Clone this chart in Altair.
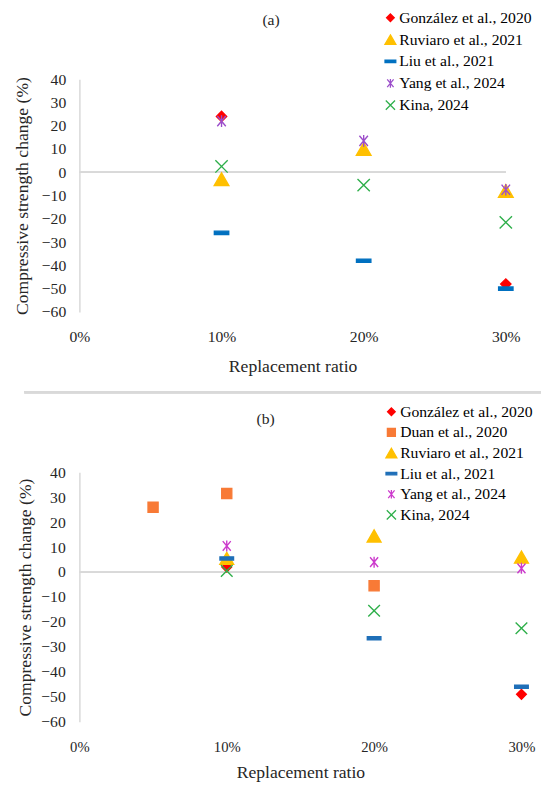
import altair as alt
import pandas as pd

# ---------------- data: panel (a) ----------------
a_studies = ["González et al., 2020", "Ruviaro et al., 2021", "Liu et al., 2021",
             "Yang et al., 2024", "Kina, 2024"]
a_gonzalez_ratio = [10, 30]
a_gonzalez_change = [24, -48]
a_ruviaro_ratio = [10, 20, 30]
a_ruviaro_change = [-3, 10, -8]
a_liu_ratio = [10, 20, 30]
a_liu_change = [-26, -38, -50]
a_yang_ratio = [10, 20, 30]
a_yang_change = [22, 13.5, -7.5]
a_kina_ratio = [10, 20, 30]
a_kina_change = [2.5, -5.5, -21.5]

# ---------------- data: panel (b) ----------------
b_studies = ["González et al., 2020", "Duan et al., 2020", "Ruviaro et al., 2021",
             "Liu et al., 2021", "Yang et al., 2024", "Kina, 2024"]
b_gonzalez_ratio = [10, 30]
b_gonzalez_change = [2, -49]
b_duan_ratio = [5, 10, 20]
b_duan_change = [26, 31.5, -5.5]
b_ruviaro_ratio = [10, 20, 30]
b_ruviaro_change = [5.5, 14.5, 6]
b_liu_ratio = [10, 20, 30]
b_liu_change = [5.5, -26.5, -46]
b_yang_ratio = [10, 20, 30]
b_yang_change = [10.5, 4, 1.5]
b_kina_ratio = [10, 20, 30]
b_kina_change = [0.5, -15.5, -22.5]

x_ticks = [0, 10, 20, 30]
y_ticks = [-60, -50, -40, -30, -20, -10, 0, 10, 20, 30, 40]

# ---------------- marker shapes / colours ----------------
DIAMOND = "M0,-0.75L0.75,0L0,0.75L-0.75,0Z"
TRIANGLE = "M0,-0.93L1.07,0.93L-1.07,0.93Z"
SQUARE = "M-0.78,-0.78L0.78,-0.78L0.78,0.78L-0.78,0.78Z"
BAR = "M-1.05,-0.24L1.05,-0.24L1.05,0.24L-1.05,0.24Z"
STAR = "M-0.62,-0.75L0.62,0.75M-0.62,0.75L0.62,-0.75M0,-0.85L0,0.85"
CROSS = "M-0.9,-0.9L0.9,0.9M-0.9,0.9L0.9,-0.9"

a_colors = ["#FF0000", "#FFC000", "#0070C0", "#9B4DCA", "#2EAF4A"]
a_shapes = [DIAMOND, TRIANGLE, BAR, STAR, CROSS]
b_colors = ["#FF0000", "#F87A36", "#FFC000", "#1F6FB8", "#CC3ACC", "#2EAF4A"]
b_shapes = [DIAMOND, SQUARE, TRIANGLE, BAR, STAR, CROSS]

FONT = "Liberation Serif"
TXT = "#262626"


def frame(series):
    rows = []
    for name, xs, ys in series:
        for x, y in zip(xs, ys):
            rows.append({"Study": name, "Ratio": x, "Change": y})
    return pd.DataFrame(rows)


df_a = frame([
    (a_studies[0], a_gonzalez_ratio, a_gonzalez_change),
    (a_studies[1], a_ruviaro_ratio, a_ruviaro_change),
    (a_studies[2], a_liu_ratio, a_liu_change),
    (a_studies[3], a_yang_ratio, a_yang_change),
    (a_studies[4], a_kina_ratio, a_kina_change),
])
df_b = frame([
    (b_studies[0], b_gonzalez_ratio, b_gonzalez_change),
    (b_studies[1], b_duan_ratio, b_duan_change),
    (b_studies[2], b_ruviaro_ratio, b_ruviaro_change),
    (b_studies[3], b_liu_ratio, b_liu_change),
    (b_studies[4], b_yang_ratio, b_yang_change),
    (b_studies[5], b_kina_ratio, b_kina_change),
])


def panel(df, studies, colors, shapes, label, label_x, label_y,
          width, height, size, x_lab_size, x_lab_pad, x_title_pad,
          y_lab_pad, y_title_pad, legend_x, legend_y, row_pad, divider=False):
    xs = alt.Scale(domain=[0, 30], nice=False, zero=False)
    ys = alt.Scale(domain=[-60, 40], nice=False, zero=False)
    legend = alt.Legend(
        title=None, orient="none", legendX=legend_x, legendY=legend_y,
        labelFont=FONT, labelFontSize=16, labelColor="#000000", labelLimit=300,
        symbolSize=110, symbolStrokeWidth=1.3, rowPadding=row_pad,
        labelOffset=1, padding=0,
    )
    x_axis = alt.Axis(
        values=x_ticks, labelExpr="datum.value + '%'", domain=False, ticks=False,
        grid=False, labelFlush=False, labelOverlap=False,
        labelFont=FONT, labelFontSize=x_lab_size, labelColor=TXT, labelPadding=x_lab_pad,
        title="Replacement ratio", titleFont=FONT, titleFontSize=18,
        titleFontWeight="normal", titleColor=TXT, titlePadding=x_title_pad,
    )
    y_axis = alt.Axis(
        values=y_ticks, domain=True, domainColor="#D9D9D9", domainWidth=1.5,
        ticks=False, grid=False, labelFont=FONT, labelFontSize=16, labelColor=TXT,
        labelPadding=y_lab_pad, labelOverlap=False, labelFlush=False,
        title="Compressive strength change (%)", titleFont=FONT, titleFontSize=18,
        titleFontWeight="normal", titleColor=TXT, titlePadding=y_title_pad,
    )
    base = alt.Chart(df)
    zero_line = base.mark_rule(color="#D9D9D9", strokeWidth=1.5).encode(
        x=alt.datum(0, scale=xs, axis=x_axis),
        x2=alt.datum(30),
        y=alt.datum(0, scale=ys, axis=y_axis),
    )
    pts = base.mark_point(strokeWidth=1.4, opacity=1, size=size).encode(
        x=alt.X("Ratio:Q", scale=xs, axis=x_axis),
        y=alt.Y("Change:Q", scale=ys, axis=y_axis),
        fill=alt.Fill("Study:N", scale=alt.Scale(domain=studies, range=colors), legend=legend),
        stroke=alt.Stroke("Study:N", scale=alt.Scale(domain=studies, range=colors), legend=legend),
        shape=alt.Shape("Study:N", scale=alt.Scale(domain=studies, range=shapes), legend=legend),
    )
    head = alt.Chart(pd.DataFrame({"t": [label]})).mark_text(
        font=FONT, fontSize=16, color=TXT, align="center", baseline="middle"
    ).encode(text="t:N", x=alt.value(label_x), y=alt.value(label_y))
    layers = [zero_line, pts, head]
    if divider:
        sep = base.mark_rule(color="#D9D9D9", strokeWidth=2).encode(
            x=alt.value(-56), x2=alt.value(width + 20), y=alt.value(-82)
        )
        layers = [sep] + layers
    return alt.layer(*layers).properties(width=width, height=height)


chart_a = panel(df_a, a_studies, a_colors, a_shapes, "(a)", 196, -60.7,
                436, 238, 196, 16, 17.5, 13.5, 14, 10, 310, -70.7, 6.3)
chart_b = panel(df_b, b_studies, b_colors, b_shapes, "(b)", 190.5, -54,
                452, 255, 175, 15, 18.5, 9.5, 14.5, 6, 311, -70, 5.1, divider=True)

chart = alt.vconcat(chart_a, chart_b, spacing=16).properties(
    padding={"left": 5, "top": -7, "right": 0, "bottom": 0}
).configure(font=FONT).configure_legend(labelFont=FONT).configure_view(
    stroke=None
).resolve_scale(fill="independent", stroke="independent", shape="independent")

chart.save("out.html", embed_options={"renderer": "svg", "actions": False})
